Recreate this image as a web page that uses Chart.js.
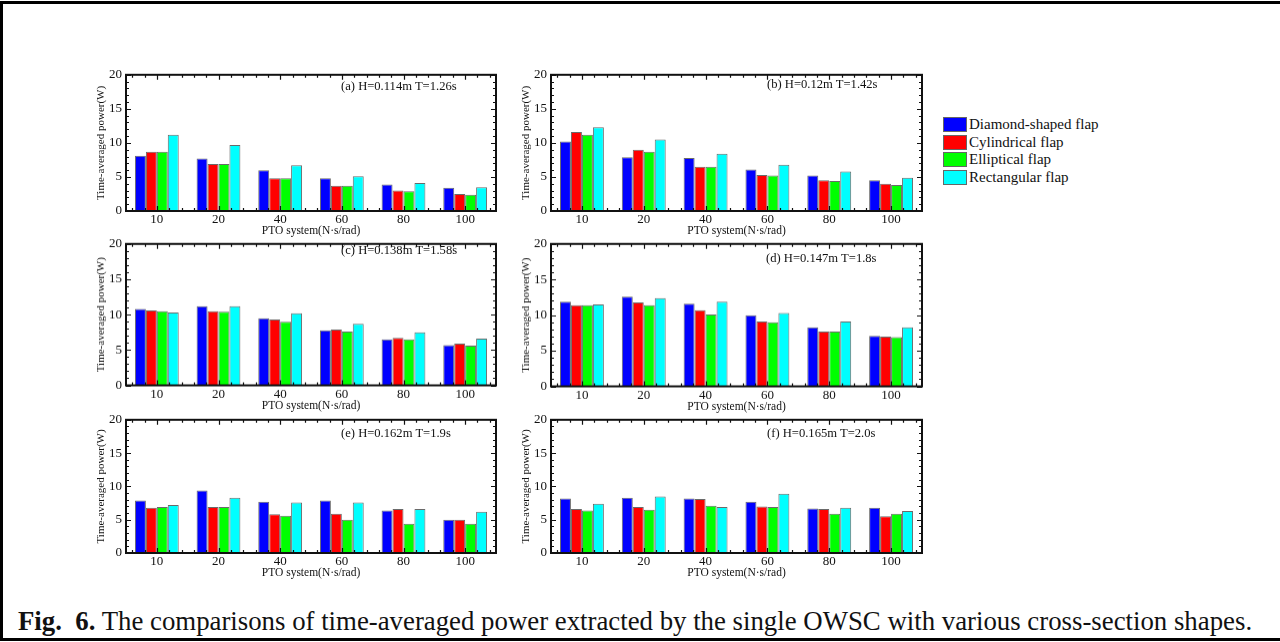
<!DOCTYPE html>
<html>
<head>
<meta charset="utf-8">
<script src="https://cdn.jsdelivr.net/npm/chart.js@4.4.1/dist/chart.umd.min.js"></script>
<style>
  html, body { margin: 0; padding: 0; background: #fff; }
  body { width: 1280px; height: 642px; position: relative; overflow: hidden; font-family: "Liberation Serif", "DejaVu Serif", serif; color: #111; }
  .frame { position: absolute; left: 0; top: 1px; width: 1290px; height: 640px; border-left: 3px solid #000; border-top: 3px solid #000; border-bottom: 3px solid #000; box-sizing: border-box; }
  .panel { position: absolute; }
  .note { position: absolute; font-size: 12.6px; line-height: 14px; white-space: nowrap; }
  .legend { position: absolute; left: 943px; top: 116px; font-size: 15px; }
  .legend .row { display: flex; align-items: center; height: 17.5px; }
  .legend .sw { width: 22px; height: 13px; border: 1px solid #666; margin-right: 2px; }
  .caption { position: absolute; left: 18px; top: 606px; font-size: 26.8px; line-height: 30px; white-space: nowrap; }
</style>
</head>
<body>
<div class="frame"></div>

<div class="panel" id="wrapA"><canvas id="chartA"></canvas></div>
<div class="panel" id="wrapB"><canvas id="chartB"></canvas></div>
<div class="panel" id="wrapC"><canvas id="chartC"></canvas></div>
<div class="panel" id="wrapD"><canvas id="chartD"></canvas></div>
<div class="panel" id="wrapE"><canvas id="chartE"></canvas></div>
<div class="panel" id="wrapF"><canvas id="chartF"></canvas></div>

<div class="note" style="left:341px; top:79px;">(a) H=0.114m T=1.26s</div>
<div class="note" style="left:767px; top:77px;">(b) H=0.12m T=1.42s</div>
<div class="note" style="left:341px; top:243px;">(c) H=0.138m T=1.58s</div>
<div class="note" style="left:766px; top:251px;">(d) H=0.147m T=1.8s</div>
<div class="note" style="left:341px; top:426px;">(e) H=0.162m T=1.9s</div>
<div class="note" style="left:767px; top:426px;">(f) H=0.165m T=2.0s</div>

<div class="legend" id="legend"></div>

<div class="caption"><b>Fig.&nbsp; 6.</b> The comparisons of time-averaged power extracted by the single OWSC with various cross-section shapes.</div>

<script>
/* ===== Data ===== */
const dampings = ["10", "20", "40", "60", "80", "100"];
const shapeNames = ["Diamond-shaped flap", "Cylindrical flap", "Elliptical flap", "Rectangular flap"];
const shapeColors = ["#0000ff", "#ff0000", "#00ff00", "#00ffff"];
const yTicks = [0, 5, 10, 15, 20];

// (a) H=0.114m T=1.26s
const diamondA = [8.1, 7.7, 6.0, 4.8, 3.9, 3.4];
const cylinderA = [8.7, 6.9, 4.8, 3.7, 3.0, 2.5];
const ellipseA = [8.7, 6.9, 4.8, 3.7, 2.9, 2.4];
const rectA = [11.2, 9.7, 6.7, 5.1, 4.1, 3.5];

// (b) H=0.12m T=1.42s
const diamondB = [10.2, 7.9, 7.8, 6.1, 5.2, 4.5];
const cylinderB = [11.6, 9.0, 6.5, 5.3, 4.5, 4.0];
const ellipseB = [11.2, 8.7, 6.5, 5.2, 4.4, 3.8];
const rectB = [12.3, 10.5, 8.4, 6.8, 5.8, 4.9];

// (c) H=0.138m T=1.58s
const diamondC = [10.8, 11.2, 9.5, 7.8, 6.5, 5.7];
const cylinderC = [10.6, 10.5, 9.3, 7.9, 6.7, 5.9];
const ellipseC = [10.5, 10.4, 9.0, 7.6, 6.5, 5.6];
const rectC = [10.3, 11.2, 10.2, 8.7, 7.5, 6.6];

// (d) H=0.147m T=1.8s
const diamondD = [11.9, 12.6, 11.6, 10.0, 8.3, 7.1];
const cylinderD = [11.4, 11.8, 10.7, 9.1, 7.7, 7.0];
const ellipseD = [11.4, 11.4, 10.1, 9.0, 7.7, 6.9];
const rectD = [11.5, 12.4, 11.9, 10.3, 9.1, 8.3];

// (e) H=0.162m T=1.9s
const diamondE = [7.9, 9.4, 7.7, 7.9, 6.4, 5.0];
const cylinderE = [6.8, 6.9, 5.8, 5.9, 6.6, 5.0];
const ellipseE = [6.9, 6.9, 5.6, 5.0, 4.4, 4.4];
const rectE = [7.2, 8.3, 7.6, 7.6, 6.6, 6.2];

// (f) H=0.165m T=2.0s
const diamondF = [8.2, 8.3, 8.2, 7.7, 6.7, 6.8];
const cylinderF = [6.6, 6.9, 8.1, 7.0, 6.6, 5.5];
const ellipseF = [6.4, 6.5, 7.1, 6.9, 5.9, 5.9];
const rectF = [7.4, 8.5, 6.9, 8.9, 6.8, 6.3];

/* ===== Layout (plot box of each panel) ===== */
const Y_AXIS_W = 38;
const X_AXIS_H = 29;
const PAD_TOP = 10;
const PAD_RIGHT = 6;

const panels = [
  { id: "A", box: [126, 72.5, 496, 210.5], series: [diamondA, cylinderA, ellipseA, rectA] },
  { id: "B", box: [551, 72.5, 922, 210.5], series: [diamondB, cylinderB, ellipseB, rectB] },
  { id: "C", box: [126, 242, 496, 384.5], series: [diamondC, cylinderC, ellipseC, rectC] },
  { id: "D", box: [551, 242, 922, 385.5], series: [diamondD, cylinderD, ellipseD, rectD] },
  { id: "E", box: [126, 418, 496, 553], series: [diamondE, cylinderE, ellipseE, rectE] },
  { id: "F", box: [551, 418, 922, 553], series: [diamondF, cylinderF, ellipseF, rectF] },
];

/* ===== Frame with inward ticks on all four sides ===== */
const frameTicks = {
  id: "frameTicks",
  afterDraw(chart) {
    const { ctx, chartArea: a, scales } = chart;
    const x = scales.x;
    const y = scales.y;
    ctx.save();
    ctx.strokeStyle = "#111";
    ctx.lineWidth = 1.2;
    ctx.beginPath();
    // y ticks: major every 5, minor every 1
    for (let v = 0; v <= 20; v++) {
      const py = Math.round(y.getPixelForValue(v)) + 0.5;
      const len = v % 5 === 0 ? 5 : 3;
      ctx.moveTo(a.left, py); ctx.lineTo(a.left + len, py);
      ctx.moveTo(a.right, py); ctx.lineTo(a.right - len, py);
    }
    // x ticks: major at each category, four minors around it
    const step = (a.right - a.left) / dampings.length / 5;
    dampings.forEach((_, i) => {
      const c = x.getPixelForValue(i);
      for (let k = -2; k <= 2; k++) {
        const px = Math.round(c + k * step) + 0.5;
        const len = k === 0 ? 5 : 3;
        ctx.moveTo(px, a.top); ctx.lineTo(px, a.top + len);
        ctx.moveTo(px, a.bottom); ctx.lineTo(px, a.bottom - len);
      }
    });
    ctx.stroke();
    ctx.lineWidth = 2;
    ctx.strokeRect(a.left, a.top, a.right - a.left, a.bottom - a.top);
    ctx.restore();
  },
};

function buildPanel(p) {
  const [l, t, r, b] = p.box;
  const wrap = document.getElementById("wrap" + p.id);
  const w = r - l + Y_AXIS_W + PAD_RIGHT;
  const h = b - t + PAD_TOP + X_AXIS_H;
  wrap.style.left = (l - Y_AXIS_W) + "px";
  wrap.style.top = (t - PAD_TOP) + "px";
  wrap.style.width = w + "px";
  wrap.style.height = h + "px";

  const canvas = document.getElementById("chart" + p.id);
  return new Chart(canvas, {
    type: "bar",
    data: {
      labels: dampings,
      datasets: p.series.map((values, i) => ({
        label: shapeNames[i],
        data: values,
        backgroundColor: shapeColors[i],
        borderColor: "#6a6a6a",
        borderWidth: 1,
        barPercentage: 1.0,
        categoryPercentage: 0.71,
      })),
    },
    options: {
      responsive: true,
      maintainAspectRatio: false,
      animation: false,
      layout: { padding: { top: PAD_TOP, right: PAD_RIGHT, left: 0, bottom: 0 } },
      plugins: { legend: { display: false }, tooltip: { enabled: false } },
      scales: {
        x: {
          grid: { display: false, drawTicks: false },
          border: { display: false },
          ticks: { color: "#111", padding: 1, font: { family: "Liberation Serif", size: 13 } },
          title: {
            display: true,
            text: "PTO system(N·s/rad)",
            color: "#111",
            padding: { top: 0, bottom: 2 },
            font: { family: "Liberation Serif", size: 11.5 },
          },
          afterFit: (s) => { s.height = X_AXIS_H; },
        },
        y: {
          min: 0,
          max: 20,
          afterBuildTicks: (s) => { s.ticks = yTicks.map((v) => ({ value: v })); },
          grid: { display: false, drawTicks: false },
          border: { display: false },
          ticks: { color: "#111", padding: 4, font: { family: "Liberation Serif", size: 13 } },
          title: {
            display: true,
            text: "Time-averaged power(W)",
            color: "#111",
            padding: { top: 7, bottom: 0 },
            font: { family: "Liberation Serif", size: 11 },
          },
          afterFit: (s) => { s.width = Y_AXIS_W; },
        },
      },
    },
    plugins: [frameTicks],
  });
}

panels.forEach(buildPanel);

/* ===== Shared legend ===== */
const legendEl = document.getElementById("legend");
legendEl.innerHTML = shapeNames
  .map((name, i) => `<div class="row"><span class="sw" style="background:${shapeColors[i]}"></span>${name}</div>`)
  .join("");
</script>
</body>
</html>
